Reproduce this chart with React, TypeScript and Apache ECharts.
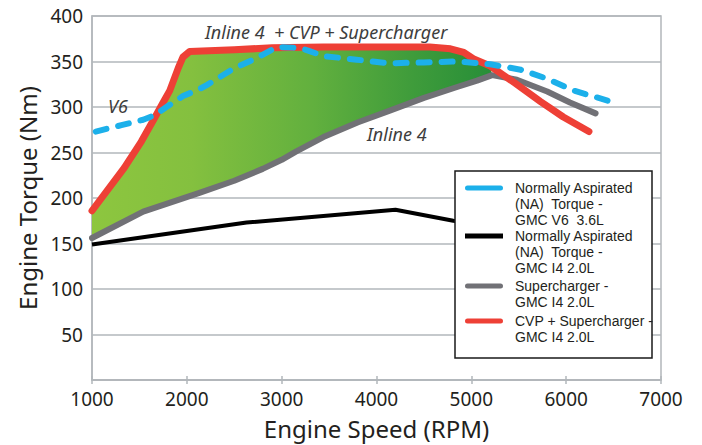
import React, { useEffect, useRef } from "react";
import * as echarts from "echarts";

const FONT = "'Noto Sans', 'DejaVu Sans', sans-serif";
const LEGEND_FONT = "'Liberation Sans', Arial, sans-serif";

// [rpm, torque Nm]
const v6Torque: number[][] = [
  [1040, 273], [1310, 280], [1540, 286], [1660, 291], [1800, 301], [1960, 312],
  [2120, 319], [2210, 324], [2490, 342], [2740, 354], [2950, 366], [3180, 365],
  [3280, 362], [3440, 356], [3790, 352], [4140, 348], [4500, 349], [4850, 350],
  [5200, 347], [5520, 341], [5800, 331], [6080, 318], [6470, 306],
];
const naI4Torque: number[][] = [
  [1000, 149], [2630, 173], [4200, 187], [4810, 175], [5000, 172],
];
const scI4Torque: number[][] = [
  [1000, 156], [1540, 185], [2140, 206], [2500, 219], [2800, 232], [3000, 242],
  [3150, 251], [3440, 267], [3800, 283], [4140, 296], [4500, 310], [4850, 322],
  [5060, 329], [5220, 335], [5480, 330], [5800, 317], [6040, 305], [6310, 293],
];
const cvpScI4Torque: number[][] = [
  [1000, 186], [1340, 233], [1520, 262], [1660, 288], [1750, 305], [1820, 318],
  [1910, 343], [1960, 355], [2030, 361], [2500, 363], [2900, 365], [3440, 366],
  [4140, 366], [4560, 366], [4780, 364], [4920, 360], [5020, 353], [5200, 345],
  [5450, 327], [5730, 306], [5970, 289], [6240, 273],
];

const seriesNames = [
  "Normally Aspirated\n(NA)  Torque -\nGMC V6  3.6L",
  "Normally Aspirated\n(NA)  Torque -\nGMC I4 2.0L",
  "Supercharger -\nGMC I4 2.0L",
  "CVP + Supercharger -\nGMC I4 2.0L",
];
const seriesColors = ["#1cb0ea", "#000000", "#717176", "#ee4036"];

const annotations = [
  { text: "Inline 4  + CVP + Supercharger", x: 205, y: 32 },
  { text: "V6", x: 108, y: 106 },
  { text: "Inline 4", x: 367, y: 134 },
];

const fillTop = cvpScI4Torque.filter((p) => p[0] <= 5200);
const fillBottom = scI4Torque.filter((p) => p[0] <= 5220);

const LH = 16;
const ICON_W = 38;
const BAR = 5;

function iconPath(h: number, round: boolean) {
  const y0 = LH / 2 - BAR / 2;
  const y1 = y0 + BAR;
  const r = BAR / 2;
  const bar = round
    ? `M${r},${y0}H${ICON_W - r}A${r},${r} 0 0 1 ${ICON_W - r},${y1}H${r}A${r},${r} 0 0 1 ${r},${y0}Z`
    : `M0,${y0}H${ICON_W}V${y1}H0Z`;
  const e = 0.01;
  return `path://M0,0h${e}v${e}h-${e}Z${bar}M${ICON_W - e},${h - e}h${e}v${e}h-${e}Z`;
}

function legendFor(i: number, firstLineY: number, round: boolean) {
  const lines = seriesNames[i].split("\n").length;
  const h = lines * LH;
  return {
    show: true,
    orient: "vertical",
    left: 465,
    top: firstLineY - LH / 2,
    padding: 0,
    itemWidth: ICON_W,
    itemHeight: h,
    selectedMode: false,
    symbolKeepAspect: false,
    z: 6,
    icon: iconPath(h, round),
    data: [seriesNames[i]],
    itemStyle: { borderWidth: 0 },
    textStyle: {
      fontSize: 14,
      lineHeight: LH,
      color: "#231f20",
      fontFamily: LEGEND_FONT,
      padding: [0, 0, 0, 7],
    },
  };
}

export default function App() {
  const ref = useRef<HTMLDivElement>(null);
  useEffect(() => {
    if (!ref.current) return;
    const chart = echarts.init(ref.current, null, { renderer: "svg" });
    const gridColor = "#b2b7bb";
    const option: any = {
      animation: false,
      backgroundColor: "#ffffff",
      grid: {
        left: 92,
        right: 41,
        top: 16,
        bottom: 62,
        show: true,
        borderColor: gridColor,
        borderWidth: 1.5,
      },
      xAxis: [
        {
          type: "value",
          min: 1000,
          max: 7000,
          interval: 1000,
          name: "Engine Speed (RPM)",
          nameLocation: "middle",
          nameGap: 36,
          nameTextStyle: { fontSize: 24, color: "#231f20", fontFamily: FONT },
          axisLine: { lineStyle: { color: gridColor, width: 1.5 } },
          axisTick: { show: true, length: 4, lineStyle: { color: gridColor, width: 1.5 } },
          axisLabel: {
            fontSize: 19,
            color: "#231f20",
            fontFamily: FONT,
            margin: 9,
            formatter: (v: number) => String(v),
          },
          splitLine: { show: false },
        },
        {
          type: "value",
          min: 1000,
          max: 7000,
          interval: 1000,
          position: "bottom",
          axisLine: { show: false },
          axisTick: { show: true, inside: true, length: 4, lineStyle: { color: gridColor, width: 1.5 } },
          axisLabel: { show: false },
          splitLine: { show: false },
        },
      ],
      yAxis: {
        type: "value",
        min: 0,
        max: 400,
        interval: 50,
        name: "Engine Torque (Nm)",
        nameLocation: "middle",
        nameGap: 52,
        nameTextStyle: { fontSize: 24, color: "#231f20", fontFamily: FONT },
        axisLine: { show: true, lineStyle: { color: gridColor, width: 1.5 } },
        axisTick: { show: false },
        axisLabel: {
          fontSize: 19,
          color: "#231f20",
          fontFamily: FONT,
          margin: 9,
          formatter: (v: number) => (v === 0 ? "" : String(v)),
        },
        splitLine: { lineStyle: { color: gridColor, width: 1.5 } },
      },
      legend: [
        legendFor(0, 188, true),
        legendFor(1, 236, false),
        legendFor(2, 286, true),
        legendFor(3, 321, true),
      ],
      graphic: [
        {
          type: "rect",
          z: 4,
          shape: { x: 455, y: 171, width: 197, height: 187 },
          style: { fill: "#ffffff", stroke: "#1a1a1a", lineWidth: 1.5 },
        },
        ...annotations.map((a) => ({
          type: "text",
          z: 10,
          x: a.x,
          y: a.y,
          style: {
            text: a.text,
            fontSize: 18,
            fontStyle: "italic",
            fontFamily: FONT,
            fill: "#3d3d3d",
            verticalAlign: "middle",
            align: "left",
          },
        })),
      ],
      series: [
        {
          type: "custom",
          name: "fill",
          silent: true,
          z: 1,
          data: [[1000, 0]],
          renderItem: (_params: any, api: any) => {
            const pts: number[][] = [];
            for (const p of fillTop) pts.push(api.coord(p));
            for (let i = fillBottom.length - 1; i >= 0; i--) pts.push(api.coord(fillBottom[i]));
            return {
              type: "polygon",
              shape: { points: pts },
              style: {
                fill: new echarts.graphic.LinearGradient(0, 0, 1, 0, [
                  { offset: 0, color: "#8dc63f" },
                  { offset: 0.25, color: "#84c03f" },
                  { offset: 0.55, color: "#62b03e" },
                  { offset: 0.8, color: "#3f9c3b" },
                  { offset: 1, color: "#278e38" },
                ]),
              },
            };
          },
        },
        {
          type: "line",
          name: seriesNames[2],
          data: scI4Torque,
          symbol: "none",
          z: 2,
          lineStyle: { color: seriesColors[2], width: 6, cap: "round", join: "round" },
          itemStyle: { color: seriesColors[2] },
        },
        {
          type: "line",
          name: seriesNames[1],
          data: naI4Torque,
          symbol: "none",
          z: 2,
          lineStyle: { color: seriesColors[1], width: 4, join: "round" },
          itemStyle: { color: seriesColors[1] },
        },
        {
          type: "line",
          name: seriesNames[3],
          data: cvpScI4Torque,
          symbol: "none",
          z: 2,
          lineStyle: { color: seriesColors[3], width: 7, cap: "round", join: "round" },
          itemStyle: { color: seriesColors[3] },
        },
        {
          type: "line",
          name: seriesNames[0],
          data: v6Torque,
          symbol: "none",
          z: 2,
          lineStyle: { color: seriesColors[0], width: 6, type: [11, 12], cap: "round", join: "round" },
          itemStyle: { color: seriesColors[0] },
        },
      ],
    };
    chart.setOption(option);
    return () => chart.dispose();
  }, []);
  return (
    <div
      ref={ref}
      style={{ position: "fixed", left: 0, top: 0, width: 702, height: 445 }}
    />
  );
}
